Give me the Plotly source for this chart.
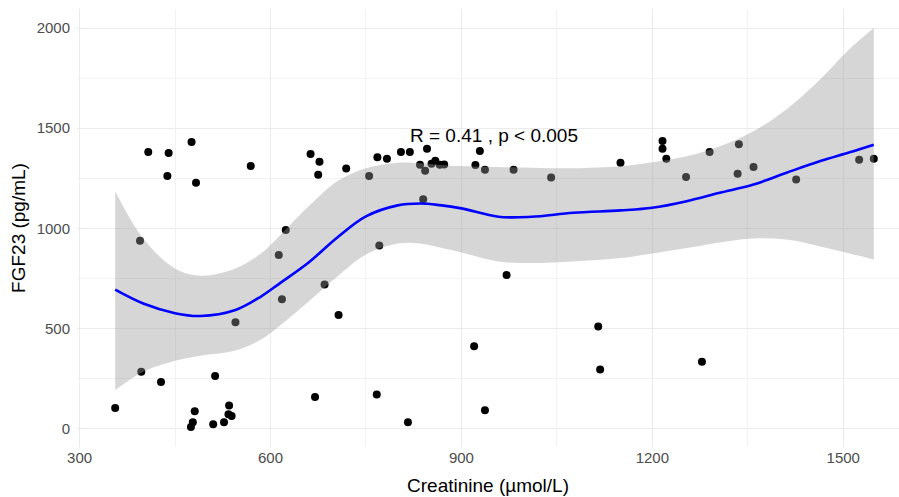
import plotly.graph_objects as go

# Observed creatinine (µmol/L) and FGF23 (pg/mL) per patient
creatinine = [356, 395, 408, 440, 438, 476, 483, 569, 624, 613,
              618, 685, 545, 397, 428, 513, 481, 478, 475, 510,
              527, 535, 534, 539, 670, 771, 707, 971, 1115, 920,
              1118, 1278, 767, 816, 937, 663, 677, 675, 719, 755,
              768, 783, 805, 819, 846, 835, 843, 853, 859, 866,
              873, 840, 922, 929, 937, 982, 1041, 1150, 1216, 1216,
              1222, 1253, 1290, 1336, 1334, 1359, 1426, 1525, 1548]
fgf23 = [104, 938, 1381, 1376, 1261, 1431, 1228, 1311, 992, 867,
         647, 720, 532, 284, 234, 263, 88, 33, 9, 22,
         33, 116, 73, 64, 159, 915, 568, 767, 510, 412,
         296, 334, 171, 33, 93, 1371, 1333, 1268, 1299, 1261,
         1355, 1348, 1381, 1381, 1398, 1318, 1288, 1323, 1338, 1318,
         1319, 1146, 1316, 1386, 1293, 1293, 1254, 1328, 1436, 1398,
         1348, 1256, 1381, 1420, 1273, 1306, 1244, 1343, 1348]

# LOESS smooth with its confidence band
smooth_x = [356, 400, 450, 490, 545, 585, 615, 660, 705, 750, 800, 835, 866,
            900, 958, 1010, 1076, 1150, 1200, 1254, 1306, 1359, 1411, 1464, 1510, 1548]
smooth_fit = [694, 625, 577, 563, 593, 660, 727, 830, 955, 1060, 1115, 1124, 1116,
              1100, 1058, 1058, 1078, 1090, 1103, 1136, 1178, 1219, 1278, 1336, 1380, 1418]
band_upper = [1186, 950, 800, 764, 800, 875, 965, 1110, 1235, 1300, 1328, 1325, 1317,
              1311, 1306, 1303, 1300, 1310, 1330, 1360, 1410, 1485, 1595, 1745, 1895, 2000]
band_lower = [193, 285, 340, 365, 390, 445, 515, 635, 760, 870, 925, 925, 905,
              880, 835, 827, 835, 852, 875, 902, 930, 950, 944, 910, 875, 845]

x_ticks = [300, 600, 900, 1200, 1500]
y_ticks = [0, 500, 1000, 1500, 2000]
stat_label = "R = 0.41 , p < 0.005"

FONT = "Liberation Sans, Arial, sans-serif"

fig = go.Figure()

fig.add_trace(go.Scatter(
    x=creatinine, y=fgf23, mode="markers",
    marker=dict(color="black", size=8, line=dict(width=0)),
    showlegend=False, hoverinfo="skip",
))

# confidence band drawn over the points, semi-transparent grey
fig.add_trace(go.Scatter(
    x=smooth_x, y=band_lower, mode="lines",
    line=dict(width=0, shape="spline"),
    showlegend=False, hoverinfo="skip",
))
fig.add_trace(go.Scatter(
    x=smooth_x, y=band_upper, mode="lines",
    line=dict(width=0, shape="spline"),
    fill="tonexty", fillcolor="rgba(153,153,153,0.4)",
    showlegend=False, hoverinfo="skip",
))
fig.add_trace(go.Scatter(
    x=smooth_x, y=smooth_fit, mode="lines",
    line=dict(color="#0000ff", width=2.6, shape="spline"),
    showlegend=False, hoverinfo="skip",
))

fig.add_annotation(
    x=816, y=1465, xref="x", yref="y", text=stat_label, showarrow=False,
    xanchor="left", yanchor="middle",
    font=dict(family=FONT, size=19, color="black"),
)

grid_col = "#ebebeb"
fig.update_xaxes(
    range=[296, 1587.6], tickvals=x_ticks, ticktext=[str(v) for v in x_ticks],
    showgrid=True, gridcolor=grid_col, gridwidth=1.2, zeroline=False,
    showline=False, ticks="",
    minor=dict(dtick=150, tick0=300, showgrid=True, gridcolor="#f2f2f2", gridwidth=0.9),
    tickfont=dict(family=FONT, size=15, color="#4d4d4d"),
    title=dict(text="Creatinine (µmol/L)", font=dict(family=FONT, size=19, color="black"),
               standoff=13),
)
fig.update_yaxes(
    range=[-91, 2095], tickvals=y_ticks, ticktext=[str(v) for v in y_ticks],
    showgrid=True, gridcolor=grid_col, gridwidth=1.2, zeroline=False,
    showline=False, ticks="", ticklabelstandoff=6,
    minor=dict(dtick=250, tick0=0, showgrid=True, gridcolor="#f2f2f2", gridwidth=0.9),
    tickfont=dict(family=FONT, size=15, color="#4d4d4d"),
    title=dict(text="FGF23 (pg/mL)", font=dict(family=FONT, size=19, color="black"),
               standoff=5),
)

fig.update_layout(
    width=899, height=497,
    margin=dict(l=77, r=0, t=9, b=50),
    paper_bgcolor="white", plot_bgcolor="white",
)

fig.write_html("out.html")
